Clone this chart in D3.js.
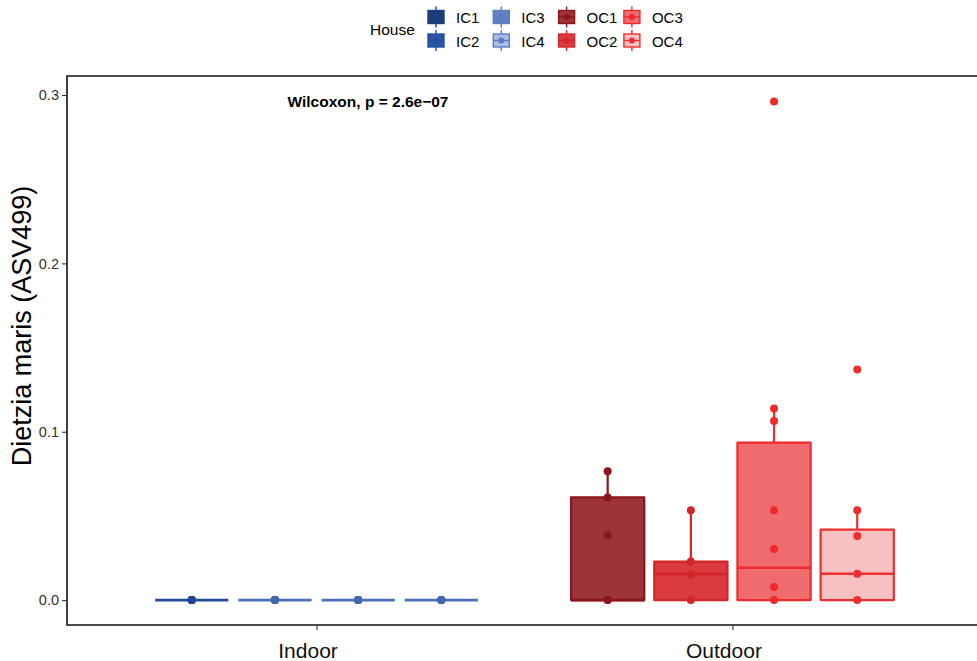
<!DOCTYPE html>
<html>
<head>
<meta charset="utf-8">
<script src="https://cdn.jsdelivr.net/npm/d3@7"></script>
<style>
  body { margin: 0; background: #fff; }
  svg { font-family: "Liberation Sans", Arial, sans-serif; }
</style>
</head>
<body>
<div id="chart"></div>
<script>
// data
var locations = ["Indoor", "Outdoor"];
var houses = ["IC1", "IC2", "IC3", "IC4", "OC1", "OC2", "OC3", "OC4"];
var houseLocation = ["Indoor", "Indoor", "Indoor", "Indoor", "Outdoor", "Outdoor", "Outdoor", "Outdoor"];
var houseSlot = [0, 1, 2, 3, 0, 1, 2, 3];

// box stats per house
var whiskerLow = [0, 0, 0, 0, 0, 0, 0, 0];
var boxQ1 = [0, 0, 0, 0, 0, 0, 0, 0];
var boxMedian = [0, 0, 0, 0, 0, 0.0154, 0.0192, 0.0156];
var boxQ3 = [0, 0, 0, 0, 0.061, 0.0229, 0.0935, 0.0419];
var whiskerHigh = [0, 0, 0, 0, 0.0765, 0.0534, 0.1138, 0.0534];

// sample points per house (outliers included)
var samplePoints = [
  [0, 0, 0, 0, 0],
  [0, 0, 0, 0, 0],
  [0, 0, 0, 0, 0],
  [0, 0, 0, 0, 0],
  [0, 0, 0.0385, 0.061, 0.0765],
  [0, 0.0154, 0.0229, 0.0534],
  [0, 0.0077, 0.0304, 0.0534, 0.1063, 0.1138, 0.2962],
  [0, 0.0156, 0.0381, 0.0534, 0.137]
];

var yTicks = [0, 0.1, 0.2, 0.3];
var testLabel = "Wilcoxon, p = 2.6e\u221207";

var lineColors = ["#1f4b9a", "#4a6fb7", "#4a6fb7", "#4a6fb7", "#8b151a", "#d4252b", "#ee2a2a", "#ee2e2e"];
var fillColors = ["#1f3b70", "#2a55a3", "#6181c2", "#a9bce3", "#9c3539", "#da3b40", "#f06b6d", "#f7c1c2"];
var keyLineColors = ["#1c3f86", "#2350a5", "#5a7cc4", "#5a7cc8", "#8b151a", "#d4252b", "#ee2a2a", "#ee2e2e"];

var width = 977, height = 661;
var margin = { left: 67, top: 76, bottom: 625, right: 982 };

var svg = d3.select("#chart").append("svg")
  .attr("width", width)
  .attr("height", height);

var x = d3.scalePoint()
  .domain(locations)
  .range([margin.left, margin.right])
  .padding(0.6);

var step = x.step();

var dodge = d3.scaleBand()
  .domain([0, 1, 2, 3])
  .range([-0.4 * step, 0.4 * step])
  .paddingInner(0.12)
  .paddingOuter(0.06);

var y = d3.scaleLinear()
  .domain([-0.0148, 0.3113])
  .range([margin.bottom, margin.top]);

// boxes
var boxes = svg.append("g");
houses.forEach(function (h, i) {
  var cx = x(houseLocation[i]) + dodge(houseSlot[i]) + dodge.bandwidth() / 2;
  var x0 = x(houseLocation[i]) + dodge(houseSlot[i]);
  var g = boxes.append("g");
  var c = lineColors[i];

  // whiskers
  g.append("line")
    .attr("x1", cx).attr("x2", cx)
    .attr("y1", y(boxQ3[i])).attr("y2", y(whiskerHigh[i]))
    .attr("stroke", c).attr("stroke-width", 2.2);
  g.append("line")
    .attr("x1", cx).attr("x2", cx)
    .attr("y1", y(boxQ1[i])).attr("y2", y(whiskerLow[i]))
    .attr("stroke", c).attr("stroke-width", 2.2);

  g.append("rect")
    .attr("x", x0)
    .attr("y", y(boxQ3[i]))
    .attr("width", dodge.bandwidth())
    .attr("height", y(boxQ1[i]) - y(boxQ3[i]))
    .attr("fill", fillColors[i])
    .attr("stroke", c)
    .attr("stroke-width", 2.2)
    .attr("stroke-linejoin", "round");

  g.append("line")
    .attr("x1", x0).attr("x2", x0 + dodge.bandwidth())
    .attr("y1", y(boxMedian[i])).attr("y2", y(boxMedian[i]))
    .attr("stroke", c).attr("stroke-width", 2.6);

  g.selectAll("circle")
    .data(samplePoints[i])
    .enter().append("circle")
    .attr("cx", cx)
    .attr("cy", function (d) { return y(d); })
    .attr("r", 4)
    .attr("fill", i < 4 ? (i == 0 ? "#1e4790" : "#4068b0") : c);
});

// panel border (right edge falls outside the window)
svg.append("path")
  .attr("d", "M" + margin.right + "," + margin.top + "H" + margin.left + "V" + margin.bottom + "H" + margin.right)
  .attr("fill", "none")
  .attr("stroke", "#111")
  .attr("stroke-width", 1.6);

// y axis
var yAxis = svg.append("g")
  .attr("transform", "translate(" + margin.left + ",0)")
  .call(d3.axisLeft(y).tickValues(yTicks).tickFormat(d3.format(".1f")).tickSize(5).tickPadding(3));
yAxis.select(".domain").remove();
yAxis.selectAll("line").attr("stroke", "#333").attr("stroke-width", 1.1);
yAxis.selectAll("text").attr("fill", "#333").style("font-size", "14.5px").style("font-family", "Liberation Sans, Arial, sans-serif");

// x axis
var xAxis = svg.append("g")
  .attr("transform", "translate(0," + margin.bottom + ")")
  .call(d3.axisBottom(x).tickSize(5).tickPadding(13));
xAxis.select(".domain").remove();
xAxis.selectAll("line").attr("stroke", "#333").attr("stroke-width", 1.1);
xAxis.selectAll("text").attr("fill", "#111").attr("dx", -9)
  .style("font-size", "21px").style("font-family", "Liberation Sans, Arial, sans-serif");

// y title
svg.append("text")
  .attr("transform", "translate(31,326) rotate(-90)")
  .attr("text-anchor", "middle")
  .style("font-size", "27px")
  .attr("fill", "#000")
  .text("Dietzia maris (ASV499)");

// test annotation
svg.append("text")
  .attr("x", 368).attr("y", 107)
  .attr("text-anchor", "middle")
  .style("font-size", "15.5px")
  .style("font-weight", "bold")
  .attr("fill", "#000")
  .text(testLabel);

// legend
var legend = svg.append("g");
legend.append("text")
  .attr("x", 370).attr("y", 35)
  .style("font-size", "15.5px")
  .attr("fill", "#000")
  .text("House");

houses.forEach(function (h, i) {
  var col = Math.floor(i / 2), row = i % 2;
  var kx = 427 + col * 65.3, ky = 10 + row * 23.5;
  var g = legend.append("g").attr("transform", "translate(" + kx + "," + ky + ")");
  g.append("line").attr("x1", 9).attr("x2", 9).attr("y1", -3.5).attr("y2", 17.5)
    .attr("stroke", keyLineColors[i]).attr("stroke-width", 1.4);
  g.append("rect").attr("x", 1).attr("y", 0.5).attr("width", 16).attr("height", 13)
    .attr("fill", fillColors[i]).attr("stroke", keyLineColors[i]).attr("stroke-width", 1.4);
  g.append("line").attr("x1", 1).attr("x2", 17).attr("y1", 7).attr("y2", 7)
    .attr("stroke", keyLineColors[i]).attr("stroke-width", 1.4);
  g.append("circle").attr("cx", 9).attr("cy", 7).attr("r", 3)
    .attr("fill", keyLineColors[i]);
  g.append("text").attr("x", 29).attr("y", 13)
    .style("font-size", "15px").attr("fill", "#000")
    .text(h);
});
</script>
</body>
</html>
